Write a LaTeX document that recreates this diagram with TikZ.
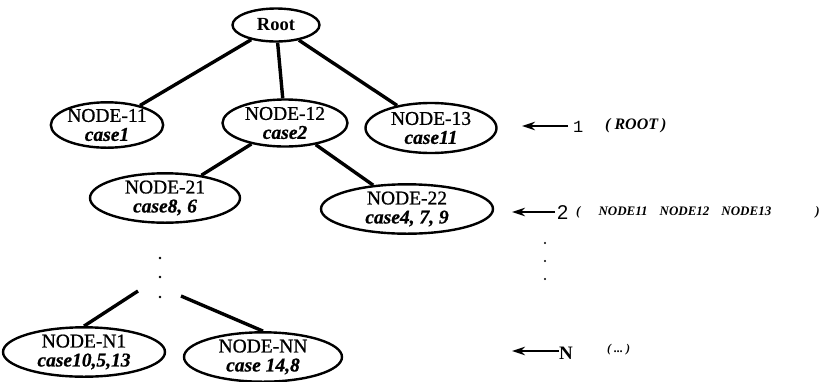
\documentclass[tikz,border=0pt]{standalone}
\usepackage{fontspec}
\setmainfont{Liberation Serif}
\setsansfont{Liberation Sans}
\setmonofont{Liberation Mono}
\newfontfamily\heavyserif[FakeBold=0.8]{Liberation Serif}
\usetikzlibrary{shapes.geometric,arrows.meta}
\begin{document}
\begin{tikzpicture}[x=1pt,y=-1pt,
  tnode/.style={ellipse,draw,line width=2.4pt,inner sep=0pt,align=center,
    font=\heavyserif\fontsize{19.5}{19}\selectfont},
  edge/.style={line width=3.4pt},
  lvl/.style={-{Stealth[length=13pt,width=8.5pt]},line width=2pt},
  note/.style={inner sep=0pt,anchor=west,font=\bfseries\itshape\fontsize{13}{13}\selectfont},
  dot/.style={circle,fill,inner sep=0pt,minimum size=2.8pt}]
\useasboundingbox (0,0) rectangle (834,381);

% tree nodes
\node[tnode,minimum width=87pt,minimum height=33pt,font=\bfseries\fontsize{18.5}{18}\selectfont] (root) at (276,25) {Root};
\node[tnode,minimum width=70pt,minimum height=45pt] (n11) at (107,125) {NODE-11\\\textbf{\textit{case1}}};
\node[tnode,minimum width=125pt,minimum height=47pt] (n12) at (285,123) {NODE-12\\\textbf{\textit{case2}}};
\node[tnode,minimum width=131pt,minimum height=50pt] (n13) at (431,128) {NODE-13\\\textbf{\textit{case11}}};
\node[tnode,minimum width=150pt,minimum height=39pt] (n21) at (165,198) {NODE-21\\\textbf{\textit{case8, 6}}};
\node[tnode,minimum width=172pt,minimum height=47pt] (n22) at (407,209) {NODE-22\\\textbf{\textit{case4, 7, 9}}};
\node[tnode,minimum width=162pt,minimum height=45pt] (nn1) at (84,352) {NODE-N1\\\textbf{\textit{case10,5,13}}};
\node[tnode,minimum width=158pt,minimum height=43pt] (nnn) at (263,357) {NODE-NN\\\textbf{\textit{case 14,8}}};

% edges
\draw[edge] (root) -- (n11);
\draw[edge] (root) -- (n12);
\draw[edge] (root) -- (n13);
\draw[edge] (n12) -- (n21);
\draw[edge] (n12) -- (n22);

% elided levels between level 2 and level N
\node[dot] (d1) at (160,258) {};
\node[dot] (d2) at (160,277) {};
\node[dot] (d3) at (160,297) {};
\coordinate (ca) at (138,291);
\coordinate (cb) at (181,296);
\draw[edge] (ca) -- (nn1.north);
\draw[edge] (cb) -- (nnn.north);

% level markers
\coordinate (t1) at (568,126);
\node[inner sep=0pt,anchor=west,font=\ttfamily\fontsize{17}{17}\selectfont] (l1) at (573,127) {1};
\draw[lvl] (t1) -- (522,126);
\node[note,font=\bfseries\itshape\fontsize{16}{16}\selectfont] (r1) at (605,126) {(\hspace{4pt}ROOT\hspace{3pt})};

\coordinate (t2) at (555,212);
\node[inner sep=0pt,anchor=west,font=\sffamily\fontsize{20}{20}\selectfont] (l2) at (557,213) {2};
\node[note] (r2) at (576,212) {(\hspace{18pt}NODE11\hspace{12pt}NODE12\hspace{12pt}NODE13\hspace{44pt})};
\draw[lvl] (t2) -- (512,212);

\node[dot,minimum size=2.4pt] (v1) at (545,243) {};
\node[dot,minimum size=2.4pt] (v2) at (545,261) {};
\node[dot,minimum size=2.4pt] (v3) at (545,279) {};

\coordinate (tn) at (559,351);
\node[inner sep=0pt,anchor=west,font=\bfseries\fontsize{19}{19}\selectfont] (ln) at (559,353) {N};
\draw[lvl] (tn) -- (512,351);
\node[note,font=\bfseries\itshape\fontsize{12}{12}\selectfont] (rn) at (607,350) {(\hspace{3pt}...\hspace{3pt})};
\end{tikzpicture}
\end{document}
